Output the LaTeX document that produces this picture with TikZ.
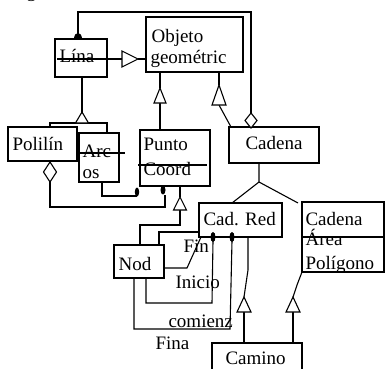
\documentclass[tikz,border=0pt]{standalone}
\usepackage{fontspec}
\setmainfont{Liberation Serif}
\begin{document}
\begin{tikzpicture}[x=1pt,y=-1pt,line width=1.1pt,
  box/.style={draw, anchor=north west, inner sep=0pt, outer sep=0pt},
  txt/.style={anchor=base west, inner sep=0pt, font=\fontsize{19}{21}\selectfont},
  hollow/.style={draw, fill=white, line width=1.1pt},
  blob/.style={fill=black}]
\useasboundingbox (0,0) rectangle (385,368);
\clip (0,0) rectangle (385,368);

% caption fragment above the figure
\node[txt] (cap) at (26,-3) {g};

% classes
\node[box, minimum width=52pt, minimum height=38pt] (linea) at (55,39) {};
\node[box, minimum width=97pt, minimum height=55pt] (objeto) at (146,17) {};
\node[box, minimum width=69pt, minimum height=34pt] (polil) at (8,127) {};
\node[box, minimum width=40pt, minimum height=49pt] (arcos) at (79,133) {};
\node[box, minimum width=70pt, minimum height=56pt] (punto) at (140,130) {};
\node[box, minimum width=90pt, minimum height=36pt] (cadena) at (229,127) {};
\node[box, minimum width=83pt, minimum height=34pt] (cadred) at (199,203) {};
\node[box, minimum width=82pt, minimum height=70pt] (cadarea) at (302,202) {};
\node[box, minimum width=50pt, minimum height=33pt] (nodo) at (114,245) {};
\node[box, minimum width=90pt, minimum height=40pt] (camino) at (212,343) {};

% class names
\node[txt] (tobj1) at (151,42) {Objeto};
\node[txt] (tobj2) at (150,63) {geométric};
\node[txt] (tlin) at (59,62) {Lína};
\node[txt] (tpol) at (12,150) {Polilín};
\node[txt] (tarc1) at (82,157) {Arc};
\node[txt] (tarc2) at (82,178) {os};
\node[txt] (tpun1) at (143,150) {Punto};
\node[txt] (tpun2) at (143,175) {Coord};
\node[txt] (tcad) at (245,149) {Cadena};
\node[txt] (tred) at (203,225) {Cad. Red};
\node[txt] (tare1) at (305,225) {Cadena};
\node[txt] (tare2) at (305,245) {Área};
\begin{scope}
  \clip (302,237) rectangle (384,271);
  \node[txt] (tare3) at (305,269) {Polígono};
\end{scope}
\node[txt] (tnod) at (118,270) {Nod};
\node[txt] (tcam) at (225,364) {Camino};

% role names
\node[txt] (rfin) at (183,252) {Fin};
\node[txt] (rini) at (175,288) {Inicio};
\node[txt] (rcom) at (168,327) {comienz};
\node[txt] (rfina) at (155,349) {Fina};

% compartment lines
\draw (57,59) -- (122,59);
\draw (79,153) -- (125,153);
\draw (138,165) -- (207,165);
\draw (cadarea.west |- 0,237) -- (cadarea.east |- 0,237);

% named points
\coordinate (tA) at (138,59);
\coordinate (tB) at (160,88);
\coordinate (tC) at (219,85);
\coordinate (tD) at (82,112);
\coordinate (tE) at (180,197);
\coordinate (tF) at (244,297);
\coordinate (tG) at (293,297);

% Linea -> Objeto
\draw (tA) -- (objeto.west |- tA);
\draw[hollow] (tA) -- (122,51) -- (122,67) -- cycle;
% Punto -> Objeto
\draw (tB) -- (160,72);
\draw (160,103) -- (punto.north -| 160,0);
\draw[hollow] (tB) -- (154,103) -- (166,103) -- cycle;
% Cadena -> Objeto
\draw (tC) -- (219,72);
\draw (219,105) -- (231,127);
\draw[hollow] (tC) -- (212,105) -- (226,105) -- cycle;
% Polilinea, Arcos -> Linea
\draw (82,77) -- (tD);
\draw (polil.north -| 50,0) -- (50,123) -- (107,123) -- (arcos.north -| 107,0);
\draw[hollow] (tD) -- (75.5,123) -- (88.5,123) -- cycle;
% Cadena Red, Cadena Area -> Cadena
\draw (cadena.south -| 259,0) -- (259,182) -- (232,203);
\draw (259,182) -- (298,203);
% Nodo -> Punto
\draw (180,186) -- (tE);
\draw (180,210) -- (180,225) -- (140,225) -- (nodo.north -| 140,0);
\draw[hollow] (tE) -- (173.5,210) -- (186.5,210) -- cycle;
% Camino -> Cad. Red
\draw (camino.north -| 244,0) -- (244,312);
\draw (tF) -- (248,270) -- (248,237);
\draw[hollow] (tF) -- (237,312) -- (251,312) -- cycle;
% Camino -> Cadena Area
\draw (camino.north -| 293,0) -- (293,312);
\draw (tG) -- (297,285) -- (302,272);
\draw[hollow] (tG) -- (286,312) -- (300,312) -- cycle;

% Linea aggregated in Cadena
\draw (78,36) -- (78,12) -- (251,12) -- (251,113);
\fill[blob] (74,39) .. controls (74,31) and (82,31) .. (82,39) -- cycle;
\draw[hollow] (251,113) -- (257,120.5) -- (251,128) -- (245,120.5) -- cycle;
% Polilinea - Punto
\draw (50,182) -- (50,207) -- (165,207) -- (165,195);
\draw[hollow] (50,162) -- (56.5,172) -- (50,182) -- (43.5,172) -- cycle;
\fill[blob] (163,190) ellipse [x radius=2.5pt, y radius=4.5pt];
% Arcos - Punto
\draw (arcos.south -| 102,0) -- (102,196) -- (137,196);
\fill[blob] (137,192) ellipse [x radius=2.2pt, y radius=4.5pt];
% Nodo - Cad. Red
\draw (159,245) -- (159,232) -- (cadred.west |- 0,232);
\draw (164,268) -- (187,268) -- (201,237);
\draw (146,278) -- (146,303) -- (212,303) -- (213,241);
\draw (134,278) -- (134,329) -- (230,329) -- (232,241);
\fill[blob] (213,237) ellipse [x radius=2.5pt, y radius=5pt];
\fill[blob] (232,237) ellipse [x radius=2.5pt, y radius=5pt];
\end{tikzpicture}
\end{document}
